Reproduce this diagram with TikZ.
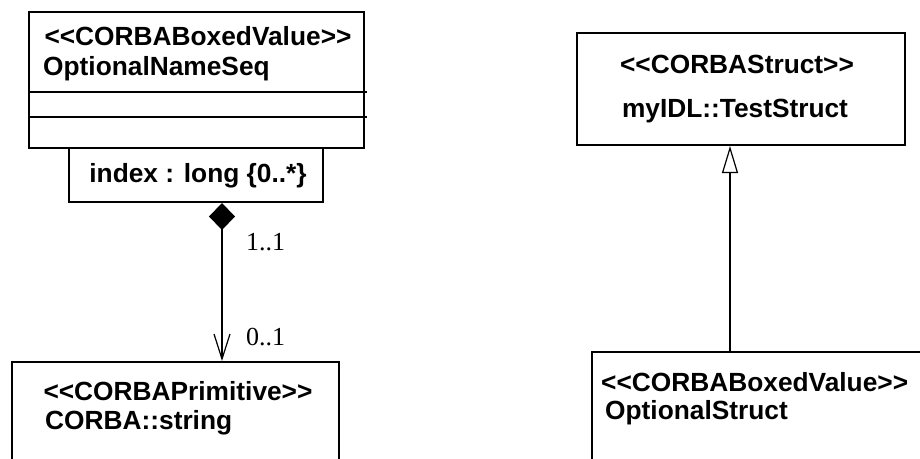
\documentclass[tikz,border=0pt]{standalone}
\usepackage{fontspec}
\setmainfont{Liberation Sans}[Ligatures=TeXOff]
\newfontfamily\labelfont{Liberation Serif}
\usetikzlibrary{arrows.meta,calc}
\newcommand{\lt}{<\kern0pt}
\newcommand{\gt}{>\kern0pt}
\tikzset{
  umlbox/.style={draw, line width=2pt, inner sep=0pt},
  boxtext/.style={inner sep=0pt, font=\fontsize{26.3}{30}\selectfont\bfseries},
  multlabel/.style={inner sep=0pt, anchor=west, font=\fontsize{26}{30}\selectfont\labelfont},
  conn/.style={line width=2pt},
}
\begin{document}
\begin{tikzpicture}[x=1pt,y=-1pt]
\useasboundingbox (0,0) rectangle (920,458);
\clip (0,0) rectangle (920,458);
% class boxes
\node[umlbox, minimum width=335pt, minimum height=136pt] (seq) at (196.5,80) {};
\draw[line width=2pt] (29,92) -- (367,92);
\draw[line width=2pt] (29,117) -- (367,117);
\node[umlbox, fill=white, minimum width=254pt, minimum height=54pt] (idx) at (196,175) {};
\node[umlbox, minimum width=327pt, minimum height=140pt] (str) at (175.5,432) {};
\node[umlbox, minimum width=328pt, minimum height=112pt] (ts) at (741,89) {};
\node[umlbox, minimum width=340pt, minimum height=140pt] (os) at (762,422) {};
% texts
\node[boxtext] (t1) at (198,36) {\lt\lt CORBABoxedValue\gt\gt};
\node[boxtext, anchor=west] (t2) at (43,69) {OptionalNameSeq};
\node[boxtext] (t3) at (198,176) {index : long \{0..*\}};
\node[boxtext] (t4) at (178,391) {\lt\lt CORBAPrimitive\gt\gt};
\node[boxtext, anchor=west] (t5) at (45,423) {CORBA::string};
\node[boxtext] (t6) at (737,64) {\lt\lt CORBAStruct\gt\gt};
\node[boxtext] (t7) at (735,111) {myIDL::TestStruct};
\node[boxtext, anchor=west] (t8) at (601,382) {\lt\lt CORBABoxedValue\gt\gt};
\node[boxtext, anchor=west] (t9) at (605,413) {OptionalStruct};
% connectors
\coordinate (cx) at (222,0);
\coordinate (gx) at (730,0);
\draw[conn, {Diamond[width=26pt,length=27pt]}-{Straight Barb[width=16pt,length=25pt,line width=1.2pt]}]
  (idx.south -| cx) -- (str.north -| cx);
\draw[conn, -{Triangle[open,width=16pt,length=27pt,line width=1.2pt]}]
  (os.north -| gx) -- (ts.south -| gx);
\node[multlabel] (m1) at (246,242) {1..1};
\node[multlabel] (m2) at (246,337) {0..1};
\end{tikzpicture}
\end{document}
